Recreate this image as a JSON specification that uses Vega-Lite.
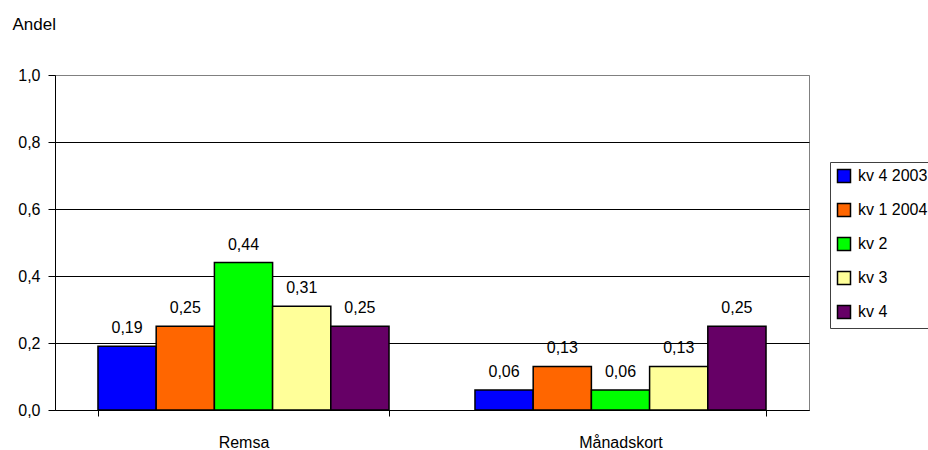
{
  "$schema": "https://vega.github.io/schema/vega-lite/v6.json",
  "autosize": {"type": "none"},
  "width": 754,
  "height": 335,
  "padding": {"left": 55, "top": 75, "right": 119, "bottom": 40},
  "background": "white",
  "config": {
    "font": "Liberation Sans",
    "view": {"stroke": "#808080", "strokeWidth": 1},
    "locale": {
      "number": {"decimal": ",", "thousands": " ", "grouping": [3], "currency": ["", " kr"]}
    }
  },
  "data": {
    "values": [
      {"kategori": "Remsa", "period": "kv 4 2003", "andel": 0.19},
      {"kategori": "Remsa", "period": "kv 1 2004", "andel": 0.25},
      {"kategori": "Remsa", "period": "kv 2", "andel": 0.44},
      {"kategori": "Remsa", "period": "kv 3", "andel": 0.31},
      {"kategori": "Remsa", "period": "kv 4", "andel": 0.25},
      {"kategori": "Månadskort", "period": "kv 4 2003", "andel": 0.06},
      {"kategori": "Månadskort", "period": "kv 1 2004", "andel": 0.13},
      {"kategori": "Månadskort", "period": "kv 2", "andel": 0.06},
      {"kategori": "Månadskort", "period": "kv 3", "andel": 0.13},
      {"kategori": "Månadskort", "period": "kv 4", "andel": 0.25}
    ]
  },
  "encoding": {
    "x": {
      "field": "kategori",
      "type": "nominal",
      "sort": ["Remsa", "Månadskort"],
      "scale": {"paddingInner": 0.228, "paddingOuter": 0.114},
      "axis": {
        "title": null,
        "labelAngle": 0,
        "labelFontSize": 16,
        "labelColor": "black",
        "labelBaseline": "alphabetic",
        "labelPadding": 31,
        "domainColor": "black",
        "tickColor": "black",
        "tickSize": 6,
        "tickBand": "extent",
        "grid": false
      }
    },
    "xOffset": {
      "field": "period",
      "type": "nominal",
      "sort": ["kv 4 2003", "kv 1 2004", "kv 2", "kv 3", "kv 4"],
      "scale": {"paddingInner": 0, "paddingOuter": 0}
    },
    "y": {
      "field": "andel",
      "type": "quantitative",
      "scale": {"domain": [0, 1], "nice": false},
      "axis": {
        "title": "Andel",
        "titleAngle": 0,
        "titleAlign": "left",
        "titleBaseline": "alphabetic",
        "titleX": -43,
        "titleY": -46,
        "titleFontSize": 17,
        "titleFontWeight": "normal",
        "titleColor": "black",
        "values": [0, 0.2, 0.4, 0.6, 0.8, 1.0],
        "format": ".1f",
        "labelFontSize": 16,
        "labelColor": "black",
        "labelPadding": 8,
        "domainColor": "black",
        "tickColor": "black",
        "tickSize": 7,
        "grid": true,
        "gridColor": {"condition": {"test": "datum.value == 1", "value": "#808080"}, "value": "black"},
        "gridOpacity": 1
      }
    }
  },
  "layer": [
    {
      "mark": {"type": "bar", "stroke": "black", "strokeWidth": 1.5},
      "encoding": {
        "color": {
          "field": "period",
          "type": "nominal",
          "sort": ["kv 4 2003", "kv 1 2004", "kv 2", "kv 3", "kv 4"],
          "scale": {
            "domain": ["kv 4 2003", "kv 1 2004", "kv 2", "kv 3", "kv 4"],
            "range": ["#0000FF", "#FF6600", "#00FF00", "#FFFF99", "#660066"]
          },
          "legend": {
            "title": null,
            "orient": "none",
            "legendX": 775,
            "legendY": 87,
            "symbolType": "square",
            "symbolSize": 169,
            "symbolStrokeColor": "black",
            "symbolStrokeWidth": 1.5,
            "symbolOpacity": 1,
            "labelFontSize": 16,
            "labelColor": "black",
            "labelOffset": 6,
            "rowPadding": 14,
            "padding": 6,
            "strokeColor": "#404040",
            "fillColor": "white",
            "labelLimit": 200
          }
        }
      }
    },
    {
      "mark": {"type": "text", "baseline": "alphabetic", "dy": -13, "fontSize": 16, "color": "black"},
      "encoding": {
        "text": {"field": "andel", "type": "quantitative", "format": ".2f"},
        "x": {"field": "kategori", "type": "nominal", "sort": ["Remsa", "Månadskort"]}
      }
    }
  ]
}
